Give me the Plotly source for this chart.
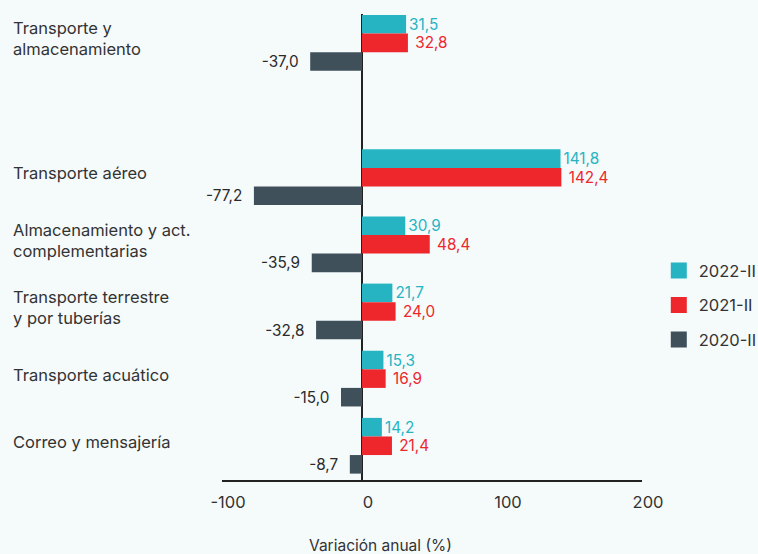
import plotly.graph_objects as go

categories = [
    "Transporte y<br>almacenamiento",
    "Transporte aéreo",
    "Almacenamiento y act.<br>complementarias",
    "Transporte terrestre<br>y por tuberías",
    "Transporte acuático",
    "Correo y mensajería",
]
# slot 1 is left empty, as in the original layout
slots = [0, 2, 3, 4, 5, 6]

series_names = ["2022-II", "2021-II", "2020-II"]
v2022 = [31.5, 141.8, 30.9, 21.7, 15.3, 14.2]
v2021 = [32.8, 142.4, 48.4, 24.0, 16.9, 21.4]
v2020 = [-37.0, -77.2, -35.9, -32.8, -15.0, -8.7]

x_ticks = [-100, 0, 100, 200]

colors = ["#26B4C3", "#EE272D", "#3F505B"]
text_colors = ["#26B4C3", "#EE272D", "#2A2A2A"]
FONT = "Inter"
BG = "#F5FAFB"
NB = "\u00a0"


def fmt(v, pad_left=0, pad_right=0):
    return NB * pad_left + f"{v:.1f}".replace(".", ",") + NB * pad_right


fig = go.Figure()

pads = [(0, 0), (1, 0), (0, 2)]
for name, vals, col, tcol, (pl, pr) in zip(series_names, [v2022, v2021, v2020], colors, text_colors, pads):
    fig.add_trace(go.Bar(
        x=vals, y=slots, orientation="h", name=name,
        marker=dict(color=col, line=dict(width=0)),
        text=[fmt(v, pl, pr) for v in vals],
        textposition="outside",
        textfont=dict(family=FONT, size=16.5, color=tcol),
        cliponaxis=False,
        showlegend=False,
    ))
    # legend entry with a larger square swatch
    fig.add_trace(go.Scatter(
        x=[None], y=[None], mode="markers", name=name,
        marker=dict(symbol="square", size=20, color=col),
        legendgroup=name,
    ))

for label, pos in zip(categories, slots):
    fig.add_annotation(
        text=label, x=-0.503, xref="paper", y=pos, yref="y",
        xanchor="left", yanchor="middle", align="left", showarrow=False,
        yshift=4, font=dict(family=FONT, size=16.5, color="#333333"),
    )

fig.add_annotation(
    text="Variación anual (%)", x=13, xref="x", y=-0.141, yref="paper",
    xanchor="center", yanchor="middle", showarrow=False,
    font=dict(family=FONT, size=15.5, color="#333333"),
)

fig.update_layout(
    width=758, height=554,
    margin=dict(l=222, r=116, t=14, b=74, autoexpand=False),
    paper_bgcolor=BG, plot_bgcolor=BG,
    barmode="group", bargap=0.17, bargroupgap=0,
    font=dict(family=FONT, size=16, color="#333333"),
    legend=dict(
        x=1.04, y=0.375, xanchor="left", yanchor="middle",
        traceorder="grouped", tracegroupgap=10,
        font=dict(family=FONT, size=16.5, color="#333333"),
        bgcolor="rgba(0,0,0,0)",
    ),
)
fig.update_xaxes(
    range=[-100, 200], tickvals=x_ticks, ticktext=[str(t) for t in x_ticks],
    showgrid=False, showline=True, linecolor="#222222", linewidth=1.5,
    zeroline=True, zerolinecolor="#222222", zerolinewidth=1.5,
    ticks="", tickfont=dict(family=FONT, size=16.5, color="#333333"),
    ticklabelstandoff=6, ticklabelshift=6,
)
fig.update_yaxes(
    range=[6.51, -0.43], showgrid=False, showline=False, zeroline=False,
    showticklabels=False, ticks="",
)

page_fix = (
    "document.body.style.margin='0';"
    "document.body.style.overflow='hidden';"
    f"document.body.style.background='{BG}';"
)
fig.write_html("out.html", post_script=page_fix, config={"displayModeBar": False})
